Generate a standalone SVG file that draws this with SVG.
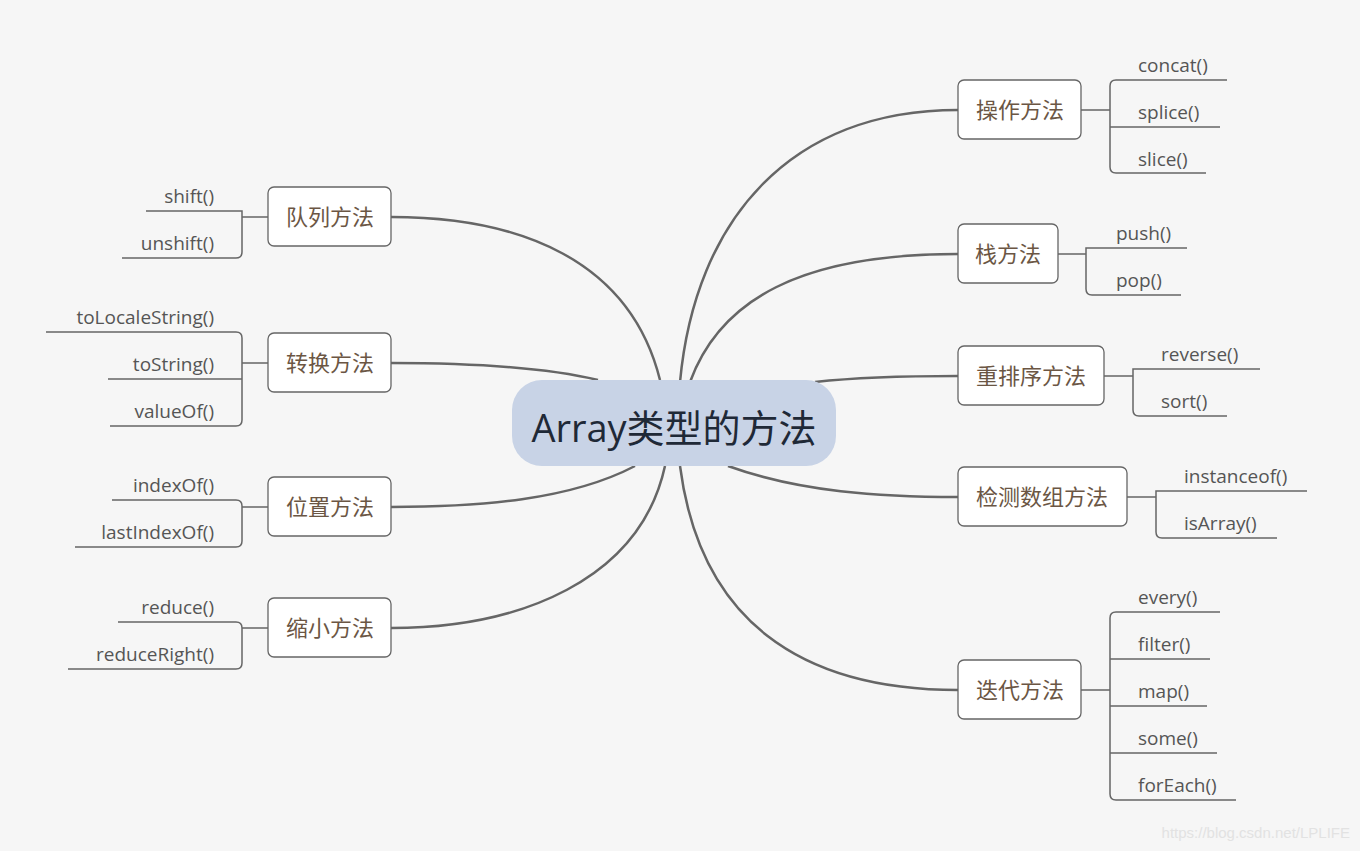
<svg xmlns="http://www.w3.org/2000/svg" width="1360" height="851" viewBox="0 0 1360 851">
<style>
.bg{fill:#f6f6f6}
.n{fill:#fff;stroke:#666;stroke-width:1.3}
.nt{font-family:"Open Sans","Noto Sans CJK SC",sans-serif;font-size:22px;fill:#6b5644;text-anchor:middle}
.c{fill:none;stroke:#666;stroke-width:2.5}
.b{fill:none;stroke:#666;stroke-width:1.5}
.l{font-family:"Open Sans","Noto Sans CJK SC",sans-serif;font-size:19px;fill:#555}
.r{text-anchor:end}
</style>
<rect class="bg" width="1360" height="851"/>
<g id="connectors">
<path class="c" d="M680 382 C695 220 790 110 958 110"/>
<path class="c" d="M690 382 C720 300 800 254 958 254"/>
<path class="c" d="M815 382 C860 377 900 376 958 376"/>
<path class="c" d="M728 466 C800 492 880 497 958 497"/>
<path class="c" d="M680 466 C700 620 800 690 958 690"/>
<path class="c" d="M660 380 C630 260 520 217 391 217"/>
<path class="c" d="M598 380 C540 366 460 363 391 363"/>
<path class="c" d="M635 466 C570 500 480 507 391 507"/>
<path class="c" d="M665 466 C640 580 520 628 391 628"/>
<g class="b">
<path d="M1081 110H1110M1227 80H1116Q1110 80 1110 86V167Q1110 173 1116 173H1206M1110 127H1220"/>
<path d="M1058 254H1086M1187 248H1086V289Q1086 295 1092 295H1181"/>
<path d="M1104 376H1133M1260 369H1133V410Q1133 416 1139 416H1227"/>
<path d="M1127 497H1156M1307 491H1156V532Q1156 538 1162 538H1277"/>
<path d="M1081 690H1110M1220 612H1116Q1110 612 1110 618V794Q1110 800 1116 800H1236M1110 659H1210M1110 706H1207M1110 753H1217"/>
<path d="M268 217H242M146 211H242V252Q242 258 236 258H122"/>
<path d="M268 363H242M46 332H236Q242 332 242 338V420Q242 426 236 426H110M108 379H242"/>
<path d="M268 507H242M112 500H236Q242 500 242 506V541Q242 547 236 547H75"/>
<path d="M268 628H242M118 622H236Q242 622 242 628V663Q242 669 236 669H68"/>
</g>
</g>
<g id="center"><rect x="512" y="380" width="324" height="86" rx="30" fill="#c8d3e6"/><text x="674" y="442" font-family="'Open Sans','Noto Sans CJK SC',sans-serif" font-size="38" fill="#1f2937" text-anchor="middle">Array类型的方法</text></g>
<g id="n1"><rect class="n" x="958" y="80" width="123" height="59" rx="6"/><text class="nt" x="1020" y="118">操作方法</text>
<text class="l" x="1138" y="72">concat()</text><text class="l" x="1138" y="119">splice()</text><text class="l" x="1138" y="166">slice()</text></g>
<g id="n2"><rect class="n" x="958" y="224" width="100" height="59" rx="6"/><text class="nt" x="1008" y="262">栈方法</text>
<text class="l" x="1116" y="240">push()</text><text class="l" x="1116" y="287">pop()</text></g>
<g id="n3"><rect class="n" x="958" y="346" width="146" height="59" rx="6"/><text class="nt" x="1031" y="384">重排序方法</text>
<text class="l" x="1161" y="361">reverse()</text><text class="l" x="1161" y="408">sort()</text></g>
<g id="n4"><rect class="n" x="958" y="467" width="169" height="59" rx="6"/><text class="nt" x="1042" y="505">检测数组方法</text>
<text class="l" x="1184" y="483">instanceof()</text><text class="l" x="1184" y="530">isArray()</text></g>
<g id="n5"><rect class="n" x="958" y="660" width="123" height="59" rx="6"/><text class="nt" x="1020" y="698">迭代方法</text>
<text class="l" x="1138" y="604">every()</text><text class="l" x="1138" y="651">filter()</text><text class="l" x="1138" y="698">map()</text><text class="l" x="1138" y="745">some()</text><text class="l" x="1138" y="792">forEach()</text></g>
<g id="n6"><rect class="n" x="268" y="187" width="123" height="59" rx="6"/><text class="nt" x="330" y="225">队列方法</text>
<text class="l r" x="214" y="203">shift()</text><text class="l r" x="214" y="250">unshift()</text></g>
<g id="n7"><rect class="n" x="268" y="333" width="123" height="59" rx="6"/><text class="nt" x="330" y="371">转换方法</text>
<text class="l r" x="214" y="324">toLocaleString()</text><text class="l r" x="214" y="371">toString()</text><text class="l r" x="214" y="418">valueOf()</text></g>
<g id="n8"><rect class="n" x="268" y="477" width="123" height="59" rx="6"/><text class="nt" x="330" y="515">位置方法</text>
<text class="l r" x="214" y="492">indexOf()</text><text class="l r" x="214" y="539">lastIndexOf()</text></g>
<g id="n9"><rect class="n" x="268" y="598" width="123" height="59" rx="6"/><text class="nt" x="330" y="636">缩小方法</text>
<text class="l r" x="214" y="614">reduce()</text><text class="l r" x="214" y="661">reduceRight()</text></g>
<text x="1350" y="838" font-family="'Liberation Sans',sans-serif" font-size="15" fill="#e2e2e2" text-anchor="end">https://blog.csdn.net/LPLIFE</text>
</svg>
